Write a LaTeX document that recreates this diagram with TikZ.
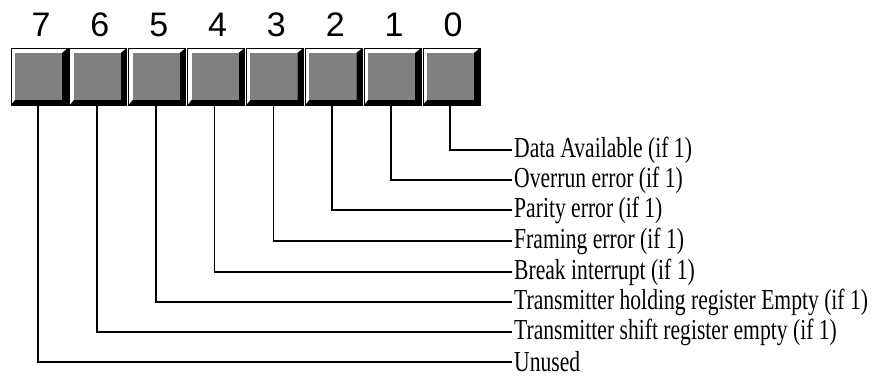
\documentclass[tikz,border=0pt]{standalone}
\usepackage{fontspec}
\usepackage{tikz}
\usetikzlibrary{positioning}
\newfontfamily\labelfont[FakeStretch=0.745]{Liberation Serif}
\newfontfamily\digitfont{Liberation Sans}
\tikzstyle{bitbox} = [draw, fill=white, line width=0.8pt, inner sep=0pt, minimum width=57pt, minimum height=57pt,
  path picture={
    \fill[black] (path picture bounding box.south west) -- (path picture bounding box.south east)
      -- (path picture bounding box.north east) -- ([shift={(-6pt,-5pt)}]path picture bounding box.north east)
      -- ([shift={(-6pt,5pt)}]path picture bounding box.south east) -- ([shift={(4pt,5pt)}]path picture bounding box.south west) -- cycle;
    \fill[black!50] ([shift={(4pt,5pt)}]path picture bounding box.south west) rectangle ([shift={(-6pt,-5pt)}]path picture bounding box.north east);
  }]
\tikzstyle{bitnum} = [inner sep=0pt, font=\digitfont\fontsize{34}{34}\selectfont]
\tikzstyle{fieldlabel} = [anchor=west, inner sep=2pt, font=\labelfont\fontsize{29}{29}\selectfont]
\tikzstyle{line} = [draw, line width=1.8pt]
\newcommand{\bitbox}[1]{node (b#1) [bitbox] {}}
\newcommand{\bitnum}[1]{node (d#1) [bitnum] {#1}}
\newcommand{\fieldlabel}[2]{node (l#1) [fieldlabel] {#2}}

\begin{document}
\begin{tikzpicture}[x=1pt,y=1pt]
\useasboundingbox (0,0) rectangle (875,388);
\path (39.5,311.5) \bitbox{7};
\path (b7)+(58.86,0) \bitbox{6};
\path (b6)+(58.86,0) \bitbox{5};
\path (b5)+(58.86,0) \bitbox{4};
\path (b4)+(58.86,0) \bitbox{3};
\path (b3)+(58.86,0) \bitbox{2};
\path (b2)+(58.86,0) \bitbox{1};
\path (b1)+(58.86,0) \bitbox{0};

\path (b7)+(1.5,51.5) \bitnum{7};
\path (b6)+(1.5,51.5) \bitnum{6};
\path (b5)+(1.5,51.5) \bitnum{5};
\path (b4)+(1.5,51.5) \bitnum{4};
\path (b3)+(1.5,51.5) \bitnum{3};
\path (b2)+(1.5,51.5) \bitnum{2};
\path (b1)+(1.5,51.5) \bitnum{1};
\path (b0)+(1.5,51.5) \bitnum{0};

\path (512,238) \fieldlabel{0}{Data Available (if 1)};
\path (512,208) \fieldlabel{1}{Overrun error (if 1)};
\path (512,178) \fieldlabel{2}{Parity error (if 1)};
\path (512,147) \fieldlabel{3}{Framing error (if 1)};
\path (512,116) \fieldlabel{4}{Break interrupt (if 1)};
\path (512,86) \fieldlabel{5}{Transmitter holding register Empty (if 1)};
\path (512,56) \fieldlabel{6}{Transmitter shift register empty (if 1)};
\path (512,26) \fieldlabel{7}{Unused};

\path [line] ([xshift=-1.5pt]b0.south) |- (l0.west);
\path [line] ([xshift=-1.5pt]b1.south) |- (l1.west);
\path [line] ([xshift=-1.5pt]b2.south) |- (l2.west);
\path [line] ([xshift=-1.5pt]b3.south) |- (l3.west);
\path [line] ([xshift=-1.5pt]b4.south) |- (l4.west);
\path [line] ([xshift=-1.5pt]b5.south) |- (l5.west);
\path [line] ([xshift=-1.5pt]b6.south) |- (l6.west);
\path [line] ([xshift=-1.5pt]b7.south) |- (l7.west);
\end{tikzpicture}
\end{document}
